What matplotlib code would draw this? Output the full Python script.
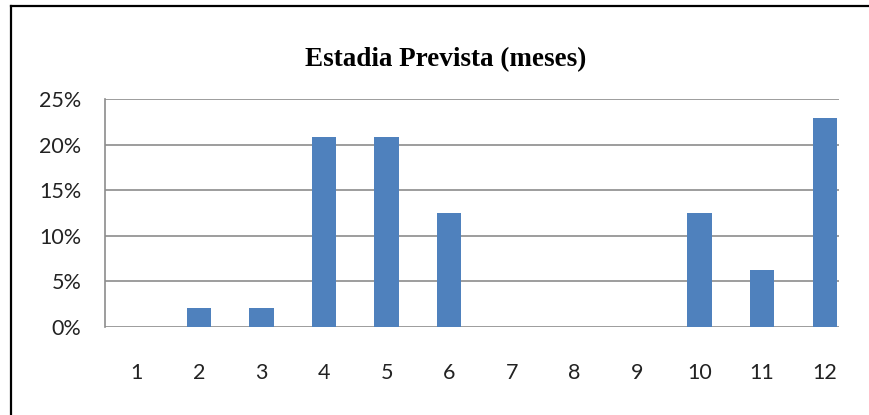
import matplotlib.pyplot as plt
from matplotlib.lines import Line2D

# data: share of respondents by planned stay (months)
months = [1, 2, 3, 4, 5, 6, 7, 8, 9, 10, 11, 12]
share = [0, 2.08, 2.08, 20.83, 20.83, 12.5, 0, 0, 0, 12.5, 6.25, 22.92]
y_ticks = [0, 5, 10, 15, 20, 25]
y_labels = ['0%', '5%', '10%', '15%', '20%', '25%']
title = 'Estadia Prevista (meses)'

W, H = 869, 415
fig = plt.figure(figsize=(W / 100, H / 100), dpi=100)
ax = fig.add_axes([105 / W, (H - 327) / H, (856 - 105) / W, (327 - 99) / H])

ax.bar(months, share, width=0.39, color='#4F81BD', zorder=3)
ax.set_xlim(0.5, 12.5)
ax.set_ylim(0, 25)

# gridlines stop a bit before the right edge, like the original
ax.hlines(y_ticks, 0.5, 12.23, color='#8C8C8C', linewidth=1.2, zorder=1)

for s in ['top', 'right', 'bottom']:
    ax.spines[s].set_visible(False)
ax.spines['left'].set_color('#8C8C8C')
ax.spines['left'].set_linewidth(1.2)

ax.set_xticks(months)
ax.set_xticklabels([str(m) for m in months])
ax.set_yticks(y_ticks)
ax.set_yticklabels(y_labels)
ax.tick_params(axis='both', length=0, labelsize=15.5, colors='#222222')
ax.tick_params(axis='x', pad=26)
ax.tick_params(axis='y', pad=17)
for lab in ax.get_xticklabels() + ax.get_yticklabels():
    lab.set_family('Lato')

fig.text(446 / W, 1 - 60 / H, title, ha='center', va='center',
         fontsize=19.5, fontweight='bold', family='Liberation Serif')

# outer frame (only left and top edges visible in the crop)
fig.add_artist(Line2D([11 / W, 11 / W], [0, 1 - 6 / H], transform=fig.transFigure,
                      color='black', linewidth=1.6))
fig.add_artist(Line2D([11 / W, 1], [1 - 6 / H, 1 - 6 / H], transform=fig.transFigure,
                      color='black', linewidth=1.6))

plt.savefig('out.png', dpi=100)
